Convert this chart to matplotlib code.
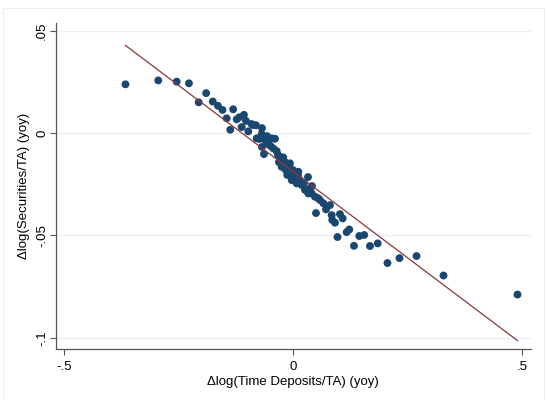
import numpy as np
import matplotlib
matplotlib.use("Agg")
import matplotlib.pyplot as plt
from matplotlib.patches import Rectangle

# change in log time deposits / total assets (yoy)
D_TIME_DEP = [
    -0.3657, -0.2941, -0.2539, -0.2271, -0.1895, -0.2059, -0.1751, -0.1638,
    -0.1539, -0.1306, -0.1448, -0.1229, -0.1172, -0.1070, -0.1369, -0.1120,
    -0.0976, -0.0906, -0.0808, -0.0793, -0.0683, -0.0736, -0.0611, -0.0531,
    -0.0465, -0.0393, -0.0633, -0.0487, -0.0430, -0.0356, -0.0328, -0.0284,
    -0.0212, -0.0212, -0.0247, -0.0066, -0.0066, -0.0109, 0.0000, -0.0124,
    0.0116, 0.0109, 0.0328, -0.0028, 0.0081, 0.0190, 0.0262, 0.0371,
    0.0408, 0.0480, 0.0590, 0.0662, 0.0736, 0.0808, 0.0502, 0.0721,
    0.0845, 0.1026, 0.1085, 0.0858, 0.0917, 0.1229, 0.1172, 0.0972,
    0.1448, 0.1555, 0.1332, 0.1681, 0.1849, 0.2063, 0.2325, 0.2697,
    0.3286, 0.4902,
    -0.0175, 0.0022, 0.0153, 0.0334, 0.0546, 0.0415, -0.0546, -0.0153,
    -0.0677, -0.1026, -0.0873,
    -0.0677, -0.0306, -0.0568, 0.0066, 0.0240, -0.0175,
]
# change in log securities / total assets (yoy)
D_SECURITIES = [
    0.0238, 0.0257, 0.0251, 0.0243, 0.0195, 0.0150, 0.0154, 0.0133,
    0.0113, 0.0116, 0.0072, 0.0067, 0.0077, 0.0089, 0.0016, 0.0029,
    0.0008, 0.0044, 0.0038, -0.0026, -0.0005, -0.0029, -0.0034, -0.0034,
    -0.0026, -0.0028, -0.0103, -0.0064, -0.0075, -0.0088, -0.0107, -0.0116,
    -0.0119, -0.0132, -0.0165, -0.0148, -0.0172, -0.0195, -0.0181, -0.0205,
    -0.0189, -0.0205, -0.0215, -0.0230, -0.0246, -0.0254, -0.0278, -0.0270,
    -0.0295, -0.0311, -0.0327, -0.0343, -0.0360, -0.0352, -0.0391, -0.0373,
    -0.0401, -0.0396, -0.0417, -0.0425, -0.0438, -0.0471, -0.0484, -0.0508,
    -0.0503, -0.0498, -0.0551, -0.0552, -0.0539, -0.0635, -0.0611, -0.0601,
    -0.0696, -0.0789,
    -0.0142, -0.0210, -0.0230, -0.0295, -0.0318, -0.0259, -0.0054, -0.0181,
    0.0024, 0.0059, 0.0039,
    -0.0068, -0.0142, -0.0015, -0.0220, -0.0244, -0.0171,
]
# linear fit
FIT_INTERCEPT = -0.0188
FIT_SLOPE = -0.1685

XTICKS = [-0.5, 0, 0.5]
XTICK_LABELS = ["-.5", "0", ".5"]
YTICKS = [-0.1, -0.05, 0, 0.05]
YTICK_LABELS = ["-.1", "-.05", "0", ".05"]

NAVY = "#1a476f"
MAROON = "#90353b"
GRID = "#eaf2f3"
AXIS = "#555555"

plt.rcParams["font.family"] = ["Liberation Sans", "DejaVu Sans"]

fig = plt.figure(figsize=(5.47, 4.0), dpi=100)
ax = fig.add_axes([55.7 / 547, 51 / 400, 475 / 547, 326.3 / 400])

x = np.array(D_TIME_DEP)
y = np.array(D_SECURITIES)

ax.scatter(x, y, s=32, color=NAVY, edgecolors="none", zorder=3)
xl = np.array([x.min(), x.max()])
ax.plot(xl, FIT_INTERCEPT + FIT_SLOPE * xl, color=MAROON, lw=0.9, zorder=4)

ax.set_xlim(-0.518, 0.519)
ax.set_ylim(-0.1055, 0.0539)

ax.set_xticks(XTICKS)
ax.set_xticklabels(XTICK_LABELS)
ax.set_yticks(YTICKS)
ax.set_yticklabels(YTICK_LABELS, rotation=90, va="center")
ax.tick_params(axis="both", direction="out", length=4, width=0.8,
               color=AXIS, labelsize=9.5, labelcolor="black")
ax.tick_params(axis="x", pad=5)
ax.tick_params(axis="y", pad=1.5)

ax.yaxis.grid(True, color=GRID, lw=1.0)
ax.set_axisbelow(True)

for side in ["top", "right"]:
    ax.spines[side].set_visible(False)
for side in ["left", "bottom"]:
    ax.spines[side].set_color(AXIS)
    ax.spines[side].set_linewidth(0.9)

ax.set_xlabel("\u0394log(Time Deposits/TA) (yoy)", fontsize=9.5, labelpad=2)
ax.set_ylabel("\u0394log(Securities/TA) (yoy)", fontsize=9.5)
ax.yaxis.set_label_coords(-0.054, 0.5)

# faint outer graph-region frame
fig.patches.append(Rectangle((3 / 547, -0.01), 541 / 547, 392 / 400 + 0.01,
                             transform=fig.transFigure, fill=False,
                             edgecolor="#eeeeee", lw=0.8))

fig.savefig("out.png", dpi=100)
